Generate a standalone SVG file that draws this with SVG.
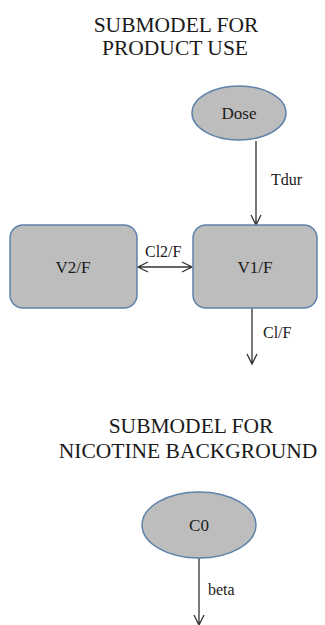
<svg xmlns="http://www.w3.org/2000/svg" width="325" height="625" viewBox="0 0 325 625">
<style>
.t{font-family:Liberation Serif;fill:#1a1a1a}
.title{font-size:21.5px;text-anchor:middle}
.lbl{font-size:17px;text-anchor:middle}
.elbl{font-size:16px}
.shape{fill:#bdbdbd;stroke:#5e82ab;stroke-width:1.5}
.conn{stroke:#333;stroke-width:1.3;fill:none}
</style>
<rect width="325" height="625" fill="#fff"/>
<text class="t title" x="176" y="32">SUBMODEL FOR</text>
<text class="t title" x="175" y="55">PRODUCT USE</text>
<text class="t title" x="191" y="433">SUBMODEL FOR</text>
<text class="t title" x="188" y="458">NICOTINE BACKGROUND</text>
<g id="connectors">
<path class="conn" d="M256,141 V225 M251,215 L256,225 L261,215"/>
<path class="conn" d="M138,267 H192 M148,262 L138,267 L148,272 M182,262 L192,267 L182,272"/>
<path class="conn" d="M252,308 V364 M247,354 L252,364 L257,354"/>
<path class="conn" d="M199,558 V625 M194,615 L199,625 L204,615"/>
<text class="t elbl" x="271" y="185">Tdur</text>
<text class="t elbl" x="145" y="257">Cl2/F</text>
<text class="t elbl" x="263" y="338">Cl/F</text>
<text class="t elbl" x="208" y="595">beta</text>
</g>
<g id="dose">
<ellipse class="shape" cx="239" cy="113" rx="47" ry="27"/>
<text class="t lbl" x="239" y="119">Dose</text>
</g>
<g id="v2f">
<rect class="shape" x="10" y="225" width="127" height="83" rx="13"/>
<text class="t lbl" x="73" y="273">V2/F</text>
</g>
<g id="v1f">
<rect class="shape" x="193" y="225" width="124" height="83" rx="13"/>
<text class="t lbl" x="255" y="273">V1/F</text>
</g>
<g id="c0">
<ellipse class="shape" cx="199" cy="525" rx="57" ry="33"/>
<text class="t lbl" x="199" y="531">C0</text>
</g>
</svg>
